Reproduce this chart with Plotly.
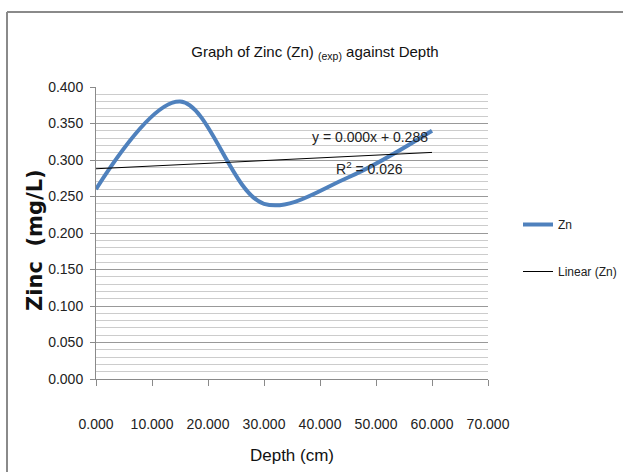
import numpy as np
import plotly.graph_objects as go

depth = [0, 15, 30, 45, 60]
zinc = [0.26, 0.38, 0.24, 0.276, 0.34]
x_ticks = [0, 10, 20, 30, 40, 50, 60, 70]
y_ticks = [0.0, 0.05, 0.10, 0.15, 0.20, 0.25, 0.30, 0.35, 0.40]
eq_text = "y = 0.000x + 0.288"
r2_text = "R<sup>2</sup> = 0.026"

slope, intercept = np.polyfit(depth, zinc, 1)
trend_x = [min(depth), max(depth)]
trend_y = [slope * v + intercept for v in trend_x]

NARROW = "Liberation Sans Narrow, Liberation Sans, Arial, sans-serif"

fig = go.Figure()
fig.add_trace(go.Scatter(
    x=depth, y=zinc, mode="lines", name="Zn",
    line=dict(color="#4F81BD", width=4, shape="spline", smoothing=1),
    legendgroup="a",
))
fig.add_trace(go.Scatter(
    x=trend_x, y=trend_y, mode="lines", name="Linear (Zn)",
    line=dict(color="#000000", width=1),
    legendgroup="b",
))

fig.add_annotation(x=48.9, y=0.3315, xref="x", yref="y", text=eq_text,
                   showarrow=False, font=dict(family=NARROW, size=14, color="#222"))
fig.add_annotation(x=48.9, y=0.289, xref="x", yref="y", text=r2_text,
                   showarrow=False, font=dict(family=NARROW, size=14, color="#222"))

L, R, T, B = 96, 135, 87, 93
W, H = 623, 472
pw, ph = W - L - R, H - T - B

# y-axis title as rotated annotation
fig.add_annotation(x=(35 - L) / pw, y=(H - B - 240) / ph, xref="paper", yref="paper",
                   text="Zinc  (mg/L)", textangle=-90, showarrow=False,
                   xanchor="center", yanchor="middle",
                   font=dict(family="DejaVu Sans", size=21, color="#111", weight="bold"))

# outer chart border (top and left edges visible)
bx = (7 - L) / pw
by = (H - B - 12) / ph
fig.add_shape(type="line", xref="paper", yref="paper", x0=bx, x1=2, y0=by, y1=by,
              line=dict(color="#8a8a8a", width=2))
fig.add_shape(type="line", xref="paper", yref="paper", x0=bx, x1=bx, y0=by, y1=-1,
              line=dict(color="#8a8a8a", width=2))

fig.update_layout(
    width=W, height=H,
    margin=dict(l=L, r=R, t=T, b=B, autoexpand=False),
    paper_bgcolor="white", plot_bgcolor="white",
    title=dict(text="Graph of Zinc (Zn) <sub>(exp)</sub> against Depth",
               x=315 / W, xanchor="center", y=1 - 52 / H, yanchor="middle",
               font=dict(family=NARROW, size=15, color="#111")),
    font=dict(family=NARROW, color="#222"),
    showlegend=True,
    legend=dict(x=(518 - L) / pw, y=(H - B - 210) / ph, xanchor="left", yanchor="top",
                tracegroupgap=28, font=dict(family=NARROW, size=12, color="#222"),
                bgcolor="rgba(0,0,0,0)", borderwidth=0),
    xaxis=dict(range=[0, 70], tickvals=x_ticks, tickformat=".3f",
               showgrid=False, zeroline=False, showline=True, linecolor="#8a8a8a",
               ticks="outside", ticklen=6, tickcolor="#8a8a8a",
               ticklabelstandoff=26,
               tickfont=dict(family=NARROW, size=14, color="#222"),
               title=dict(text="Depth (cm)", standoff=18,
                          font=dict(family=NARROW, size=17, color="#111"))),
    yaxis=dict(range=[0, 0.4], tickvals=y_ticks, tickformat=".3f",
               showgrid=True, gridcolor="#999999", gridwidth=1,
               zeroline=False, showline=True, linecolor="#8a8a8a",
               ticks="outside", ticklen=5, tickcolor="#8a8a8a",
               minor=dict(dtick=0.01, showgrid=True, gridcolor="#cccccc", gridwidth=1),
               ticklabelstandoff=4,
               tickfont=dict(family=NARROW, size=14, color="#222")),
)

fig.write_html("out.html")
